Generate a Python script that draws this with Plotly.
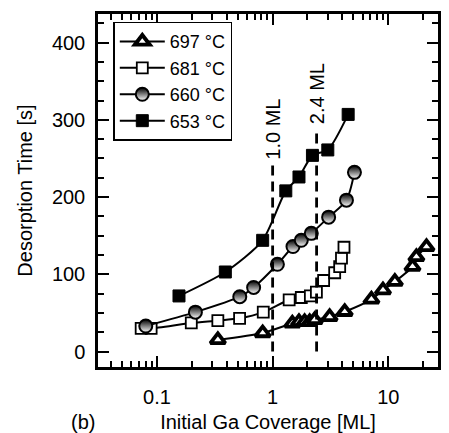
import math
import plotly.graph_objects as go

# ---- data ----
x697 = [0.336, 0.82, 1.48, 1.69, 1.89, 2.09, 2.31, 3.11, 4.20, 7.15, 9.0, 11.4, 16.2, 17.5, 21.4]
y697 = [15, 24, 36.5, 38.5, 38.5, 38.5, 41, 45, 51.5, 67.5, 79.5, 90.5, 110, 122.5, 135.5]

x681 = [0.073, 0.089, 0.198, 0.336, 0.518, 0.83, 1.39, 1.77, 2.12, 2.39, 2.76, 3.44, 3.80, 3.94, 4.14]
y681 = [30, 30, 37, 40, 43, 51, 67, 70, 72, 77, 92, 102, 110, 121, 135]

x660 = [0.08, 0.215, 0.52, 0.685, 1.1, 1.5, 1.77, 2.16, 3.05, 4.35, 5.1]
y660 = [33, 51, 71, 83, 113, 136, 144, 153, 174, 196, 232]

x653 = [0.155, 0.39, 0.82, 1.30, 1.69, 2.21, 3.0, 4.5]
y653 = [72, 103, 144, 208, 226, 254, 261, 307]

series_names = ["697 °C", "681 °C", "660 °C", "653 °C"]

ml_marks = [1.0, 2.4]
ml_labels = ["1.0 ML", "2.4 ML"]
ml_line_top = [241, 285]
ml_label_y = [288, 334]

x_tickvals = [0.1, 1, 10]
x_ticktext = ["0.1", "1", "10"]
y_tickvals = [0, 100, 200, 300, 400]

FONT = "Liberation Sans, Arial, sans-serif"
FS = 20

fig = go.Figure()

line_style = dict(color="black", width=2, shape="spline", smoothing=0.7)

fig.add_trace(go.Scatter(
    x=x697, y=y697, name=series_names[0], mode="lines+markers",
    line=line_style,
    marker=dict(symbol="triangle-up", size=13, color="white",
                line=dict(color="black", width=3.8)),
))
fig.add_trace(go.Scatter(
    x=x681, y=y681, name=series_names[1], mode="lines+markers",
    line=line_style,
    marker=dict(symbol="square", size=11, color="white",
                line=dict(color="black", width=1.8)),
))
fig.add_trace(go.Scatter(
    x=x660, y=y660, name=series_names[2], mode="lines+markers",
    line=line_style,
    marker=dict(symbol="circle", size=13, color="black",
                gradient=dict(type="vertical", color="white"),
                line=dict(color="black", width=2)),
))
fig.add_trace(go.Scatter(
    x=x653, y=y653, name=series_names[3], mode="lines+markers",
    line=line_style,
    marker=dict(symbol="square", size=12, color="black",
                line=dict(color="black", width=1)),
))

# vertical dashed markers
for xv, top, lab, ly in zip(ml_marks, ml_line_top, ml_labels, ml_label_y):
    fig.add_trace(go.Scatter(
        x=[xv, xv], y=[0, top], mode="lines", showlegend=False,
        line=dict(color="black", width=2.8, dash="10px,6px"),
        hoverinfo="skip",
    ))
    fig.add_annotation(
        x=math.log10(xv), y=ly, text=lab, showarrow=False,
        textangle=-90, font=dict(family=FONT, size=20, color="black"),
        xanchor="center", yanchor="middle",
    )

fig.add_annotation(
    x=-0.085, y=-0.155, xref="paper", yref="paper", text="(b)", showarrow=False,
    font=dict(family=FONT, size=FS, color="black"), xanchor="left", yanchor="middle",
)

axis_common = dict(
    showline=True, linecolor="black", linewidth=2.5, mirror="allticks",
    ticks="inside", tickcolor="black", tickwidth=2.2, showgrid=False, zeroline=False,
    tickfont=dict(family=FONT, size=FS, color="black"), automargin=False,
)

fig.update_xaxes(
    type="log", range=[-1.51, 1.43],
    tickvals=x_tickvals, ticktext=x_ticktext, ticklen=11,
    ticklabelstandoff=10,
    minor=dict(ticks="inside", ticklen=6, tickwidth=1.8, tickcolor="black",
               tickvals=[m * d for d in [0.01, 0.1, 1, 10] for m in range(2, 10)],
               showgrid=False),
    title=dict(text="Initial Ga Coverage [ML]", font=dict(family=FONT, size=FS, color="black"),
               standoff=16),
    **axis_common,
)
fig.update_yaxes(
    range=[-20, 437], tickvals=y_tickvals, ticklen=11,
    ticklabelstandoff=6,
    minor=dict(ticks="inside", ticklen=6, tickwidth=2.2, tickcolor="black", dtick=25,
               showgrid=False),
    title=dict(text="Desorption Time [s]", font=dict(family=FONT, size=FS, color="black"),
               standoff=14),
    **axis_common,
)

fig.update_layout(
    width=449, height=433,
    margin=dict(l=98, r=11, t=14, b=66),
    paper_bgcolor="white", plot_bgcolor="white",
    font=dict(family=FONT, size=FS, color="black"),
    legend=dict(
        x=0.045, y=0.978, xanchor="left", yanchor="top",
        bordercolor="black", borderwidth=1.5, bgcolor="white",
        font=dict(family=FONT, size=18, color="black"),
        tracegroupgap=0, itemsizing="trace", itemwidth=45,
    ),
    showlegend=True,
)

fig.write_html("out.html")
